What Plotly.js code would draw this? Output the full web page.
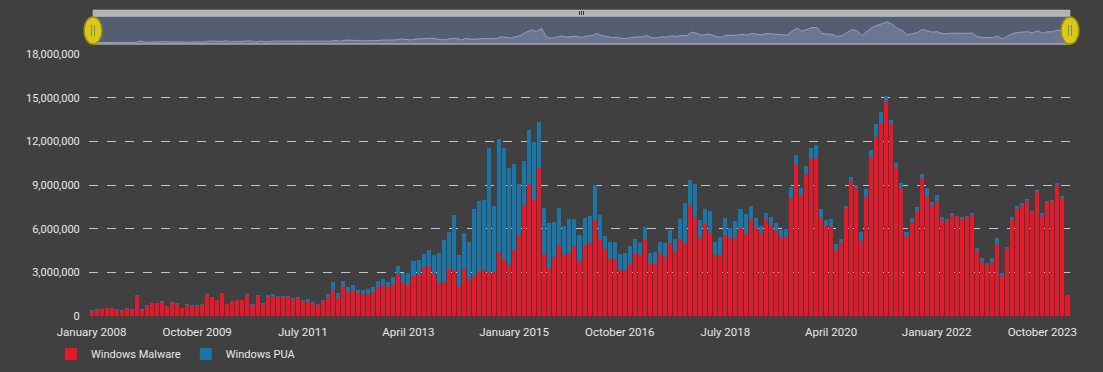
<!DOCTYPE html>
<html>
<head>
<meta charset="utf-8">
<script src="https://cdn.plot.ly/plotly-3.0.1.min.js"></script>
<style>
  html, body { margin: 0; padding: 0; background: #404040; }
  #chart { width: 1103px; height: 372px; }
</style>
</head>
<body>
<div id="chart"></div>
<script>
// ---- Data (values in millions of detections) ----
const startYear = 2008;
const monthCount = 195; // January 2008 .. March 2024
const monthNames = ["January","February","March","April","May","June","July","August","September","October","November","December"];

const tickLabels = ["January 2008","October 2009","July 2011","April 2013","January 2015","October 2016","July 2018","April 2020","January 2022","October 2023"];

const malware = [
  0.36,0.43,0.47,0.54,0.52,0.43,0.36,0.52,0.43,1.37,0.43,0.70,0.89,0.89,0.97,0.68,0.91,0.84,0.52,0.79,0.72,
  0.70,0.79,1.45,1.30,1.07,1.56,0.82,1.00,1.09,1.07,1.47,0.77,1.38,0.84,1.28,1.37,1.30,1.30,1.28,1.14,1.21,1.03,
  0.98,0.91,0.78,1.02,1.28,1.79,1.26,2.04,1.67,1.79,1.56,1.51,1.51,1.67,1.97,2.13,1.97,2.17,2.86,2.36,2.13,2.75,
  2.88,3.34,3.34,2.88,2.24,2.36,3.23,3.16,2.08,3.20,2.56,2.75,3.11,3.18,3.04,3.04,4.37,3.85,
  3.50,4.55,5.55,7.60,9.09,7.97,10.18,4.29,3.33,4.06,4.89,4.18,4.36,4.82,3.77,4.89,5.02,6.58,5.27,4.59,3.90,3.93,
  3.18,3.18,3.64,4.30,4.19,5.29,3.64,3.57,4.33,4.05,5.01,4.49,5.29,5.01,7.63,6.78,5.34,6.30,5.70,4.19,4.19,
  5.54,5.38,5.45,6.06,5.65,6.64,6.04,5.68,6.64,6.22,5.84,5.45,5.45,8.12,10.41,8.31,9.79,10.80,10.87,6.76,6.17,
  6.16,4.54,5.07,7.40,9.29,8.77,5.18,8.15,10.89,12.31,13.29,14.77,13.17,10.25,8.81,5.53,6.44,7.21,9.45,8.26,7.58,7.92,
  6.62,6.55,6.96,6.78,6.66,6.78,6.96,4.49,3.80,3.53,3.69,4.95,2.77,4.65,6.62,7.35,7.63,7.92,7.12,8.54,6.89,7.81,7.88,9.02,8.08,1.44
];

const pua = [
  0.03,0.03,0.03,0.03,0.03,0.03,0.03,0.03,0.03,0.07,0.03,0.03,0.03,0.03,0.03,0.03,0.03,0.03,0.03,0.03,0.03,
  0.03,0.03,0.04,0.03,0.03,0.04,0.03,0.03,0.03,0.03,0.04,0.03,0.04,0.03,0.16,0.14,0.05,0.05,0.07,0.07,0.12,0.07,
  0.16,0.07,0.07,0.08,0.21,0.52,0.30,0.36,0.35,0.31,0.23,0.28,0.32,0.30,0.41,0.41,0.36,0.53,0.57,0.62,0.80,1.00,
  0.97,0.92,1.19,1.31,2.09,2.86,2.56,3.78,2.11,2.48,2.50,4.58,4.79,4.79,8.52,4.51,7.79,7.71,
  6.68,5.91,3.54,3.08,3.67,3.99,3.15,3.15,3.04,2.42,2.51,2.01,2.28,1.82,1.80,1.87,1.85,2.39,1.67,0.91,1.19,1.15,
  1.06,1.12,1.17,0.99,0.80,0.80,0.66,0.80,0.73,0.94,0.88,0.80,1.37,2.75,1.74,2.29,1.28,1.03,1.51,0.87,1.27,
  1.16,0.68,1.07,1.26,1.33,0.93,0.69,0.50,0.45,0.60,0.54,0.45,0.50,0.74,0.64,0.50,0.55,0.71,0.91,0.57,0.46,
  0.51,0.41,0.23,0.13,0.23,0.23,0.62,0.57,0.53,0.86,0.73,0.34,0.28,0.25,0.30,0.27,0.27,0.30,0.34,0.53,0.27,0.38,
  0.16,0.11,0.09,0.11,0.16,0.11,0.09,0.18,0.16,0.11,0.29,0.39,0.16,0.09,0.16,0.18,0.13,0.12,0.12,0.14,0.19,0.07,0.09,0.09,0.14,0.00
];

const yTickVals = [0, 3000000, 6000000, 9000000, 12000000, 15000000, 18000000];
const yTickText = ["0","3,000,000","6,000,000","9,000,000","12,000,000","15,000,000","18,000,000"];

// month categories
const categories = [];
for (let i = 0; i < monthCount; i++) {
  categories.push(monthNames[i % 12] + " " + (startYear + Math.floor(i / 12)));
}
const toUnits = v => v * 1e6;

const RED = "#e6192b";
const BLUE = "#1b76a8";
const TXT = "#e8e8e8";

const traces = [
  {
    type: "bar", name: "Windows Malware", x: categories, y: malware.map(toUnits),
    marker: { color: RED, line: { width: 0 } }, xaxis: "x", yaxis: "y"
  },
  {
    type: "bar", name: "Windows PUA", x: categories, y: pua.map(toUnits),
    marker: { color: BLUE, line: { width: 0 } }, xaxis: "x", yaxis: "y"
  },
  {
    type: "scatter", mode: "lines", x: categories, y: malware.map(toUnits),
    fill: "tozeroy", fillcolor: "rgba(125,140,170,0.55)",
    line: { color: "rgba(150,165,195,0.9)", width: 1 },
    xaxis: "x2", yaxis: "y2", showlegend: false, hoverinfo: "skip"
  }
];

// paper geometry helpers (plot spans px x 89..1070, y 8..316)
const L = 89, R = 1070, T = 8, B = 316;
const px = x => (x - L) / (R - L);
const py = y => (B - y) / (B - T);

const shapes = [
  // navigator background
  { type: "rect", xref: "paper", yref: "paper", x0: px(93), x1: px(1070), y0: py(44), y1: py(16),
    fillcolor: "#545e72", line: { color: "#d8d8d8", width: 1 }, layer: "below" },
  // scrollbar
  { type: "rect", xref: "paper", yref: "paper", x0: px(93), x1: px(1070), y0: py(16), y1: py(10),
    fillcolor: "#b2b2b2", line: { color: "#c8c8c8", width: 0.5 }, layer: "above" },
  // scrollbar grip
  { type: "line", xref: "paper", yref: "paper", x0: px(579.5), x1: px(579.5), y0: py(15), y1: py(11), line: { color: "#333", width: 1 } },
  { type: "line", xref: "paper", yref: "paper", x0: px(581.5), x1: px(581.5), y0: py(15), y1: py(11), line: { color: "#333", width: 1 } },
  { type: "line", xref: "paper", yref: "paper", x0: px(583.5), x1: px(583.5), y0: py(15), y1: py(11), line: { color: "#333", width: 1 } },
  // handles
  { type: "circle", xref: "paper", yref: "paper", x0: px(84), x1: px(102), y0: py(44), y1: py(17),
    fillcolor: "#d9c71c", line: { color: "#9c8d0c", width: 1.5 } },
  { type: "circle", xref: "paper", yref: "paper", x0: px(1061), x1: px(1079), y0: py(44), y1: py(17),
    fillcolor: "#d9c71c", line: { color: "#9c8d0c", width: 1.5 } },
  { type: "line", xref: "paper", yref: "paper", x0: px(91.5), x1: px(91.5), y0: py(36), y1: py(25), line: { color: "#8a8a60", width: 1 } },
  { type: "line", xref: "paper", yref: "paper", x0: px(94.5), x1: px(94.5), y0: py(36), y1: py(25), line: { color: "#8a8a60", width: 1 } },
  { type: "line", xref: "paper", yref: "paper", x0: px(1068.5), x1: px(1068.5), y0: py(36), y1: py(25), line: { color: "#8a8a60", width: 1 } },
  { type: "line", xref: "paper", yref: "paper", x0: px(1071.5), x1: px(1071.5), y0: py(36), y1: py(25), line: { color: "#8a8a60", width: 1 } }
];

const layout = {
  width: 1103, height: 372,
  margin: { l: L, r: 1103 - R, t: T, b: 372 - B, pad: 0, autoexpand: false },
  paper_bgcolor: "#404040",
  plot_bgcolor: "rgba(0,0,0,0)",
  barmode: "stack",
  bargap: 0.2,
  showlegend: true,
  legend: {
    orientation: "h", xref: "container", yref: "container",
    x: 51 / 1103, xanchor: "left", y: (372 - 354) / 372, yanchor: "middle",
    font: { family: "Roboto, sans-serif", size: 11, color: TXT },
    bgcolor: "rgba(0,0,0,0)", traceorder: "normal", itemwidth: 30
  },
  xaxis: {
    type: "category", domain: [0, 1], anchor: "y",
    range: [-0.5, monthCount - 0.5],
    tickmode: "array", tickvals: tickLabels, ticktext: tickLabels,
    tickangle: 0,
    ticks: "outside", ticklen: 5, tickcolor: "rgba(0,0,0,0)",
    showgrid: false, zeroline: false, showline: false,
    tickfont: { family: "Roboto, sans-serif", size: 11.5, color: TXT },
    fixedrange: true
  },
  yaxis: {
    domain: [0, py(54)], anchor: "x",
    range: [0, 18000000],
    tickmode: "array", tickvals: yTickVals, ticktext: yTickText,
    ticks: "outside", ticklen: 6, tickcolor: "rgba(0,0,0,0)",
    showgrid: true, gridcolor: "#c4c4c4", gridwidth: 1, griddash: "dash",
    zeroline: false, showline: false,
    tickfont: { family: "Roboto, sans-serif", size: 11, color: TXT },
    fixedrange: true
  },
  xaxis2: {
    type: "category", domain: [px(93), 1], anchor: "y2",
    range: [-0.5, monthCount - 0.5],
    showgrid: false, zeroline: false, showline: false, showticklabels: false, ticks: "",
    fixedrange: true
  },
  yaxis2: {
    domain: [py(43), py(18)], anchor: "x2",
    range: [0, 17500000],
    showgrid: false, zeroline: false, showline: false, showticklabels: false, ticks: "",
    fixedrange: true
  },
  shapes: shapes
};

Plotly.newPlot("chart", traces, layout, { displayModeBar: false, staticPlot: true });
</script>
</body>
</html>
